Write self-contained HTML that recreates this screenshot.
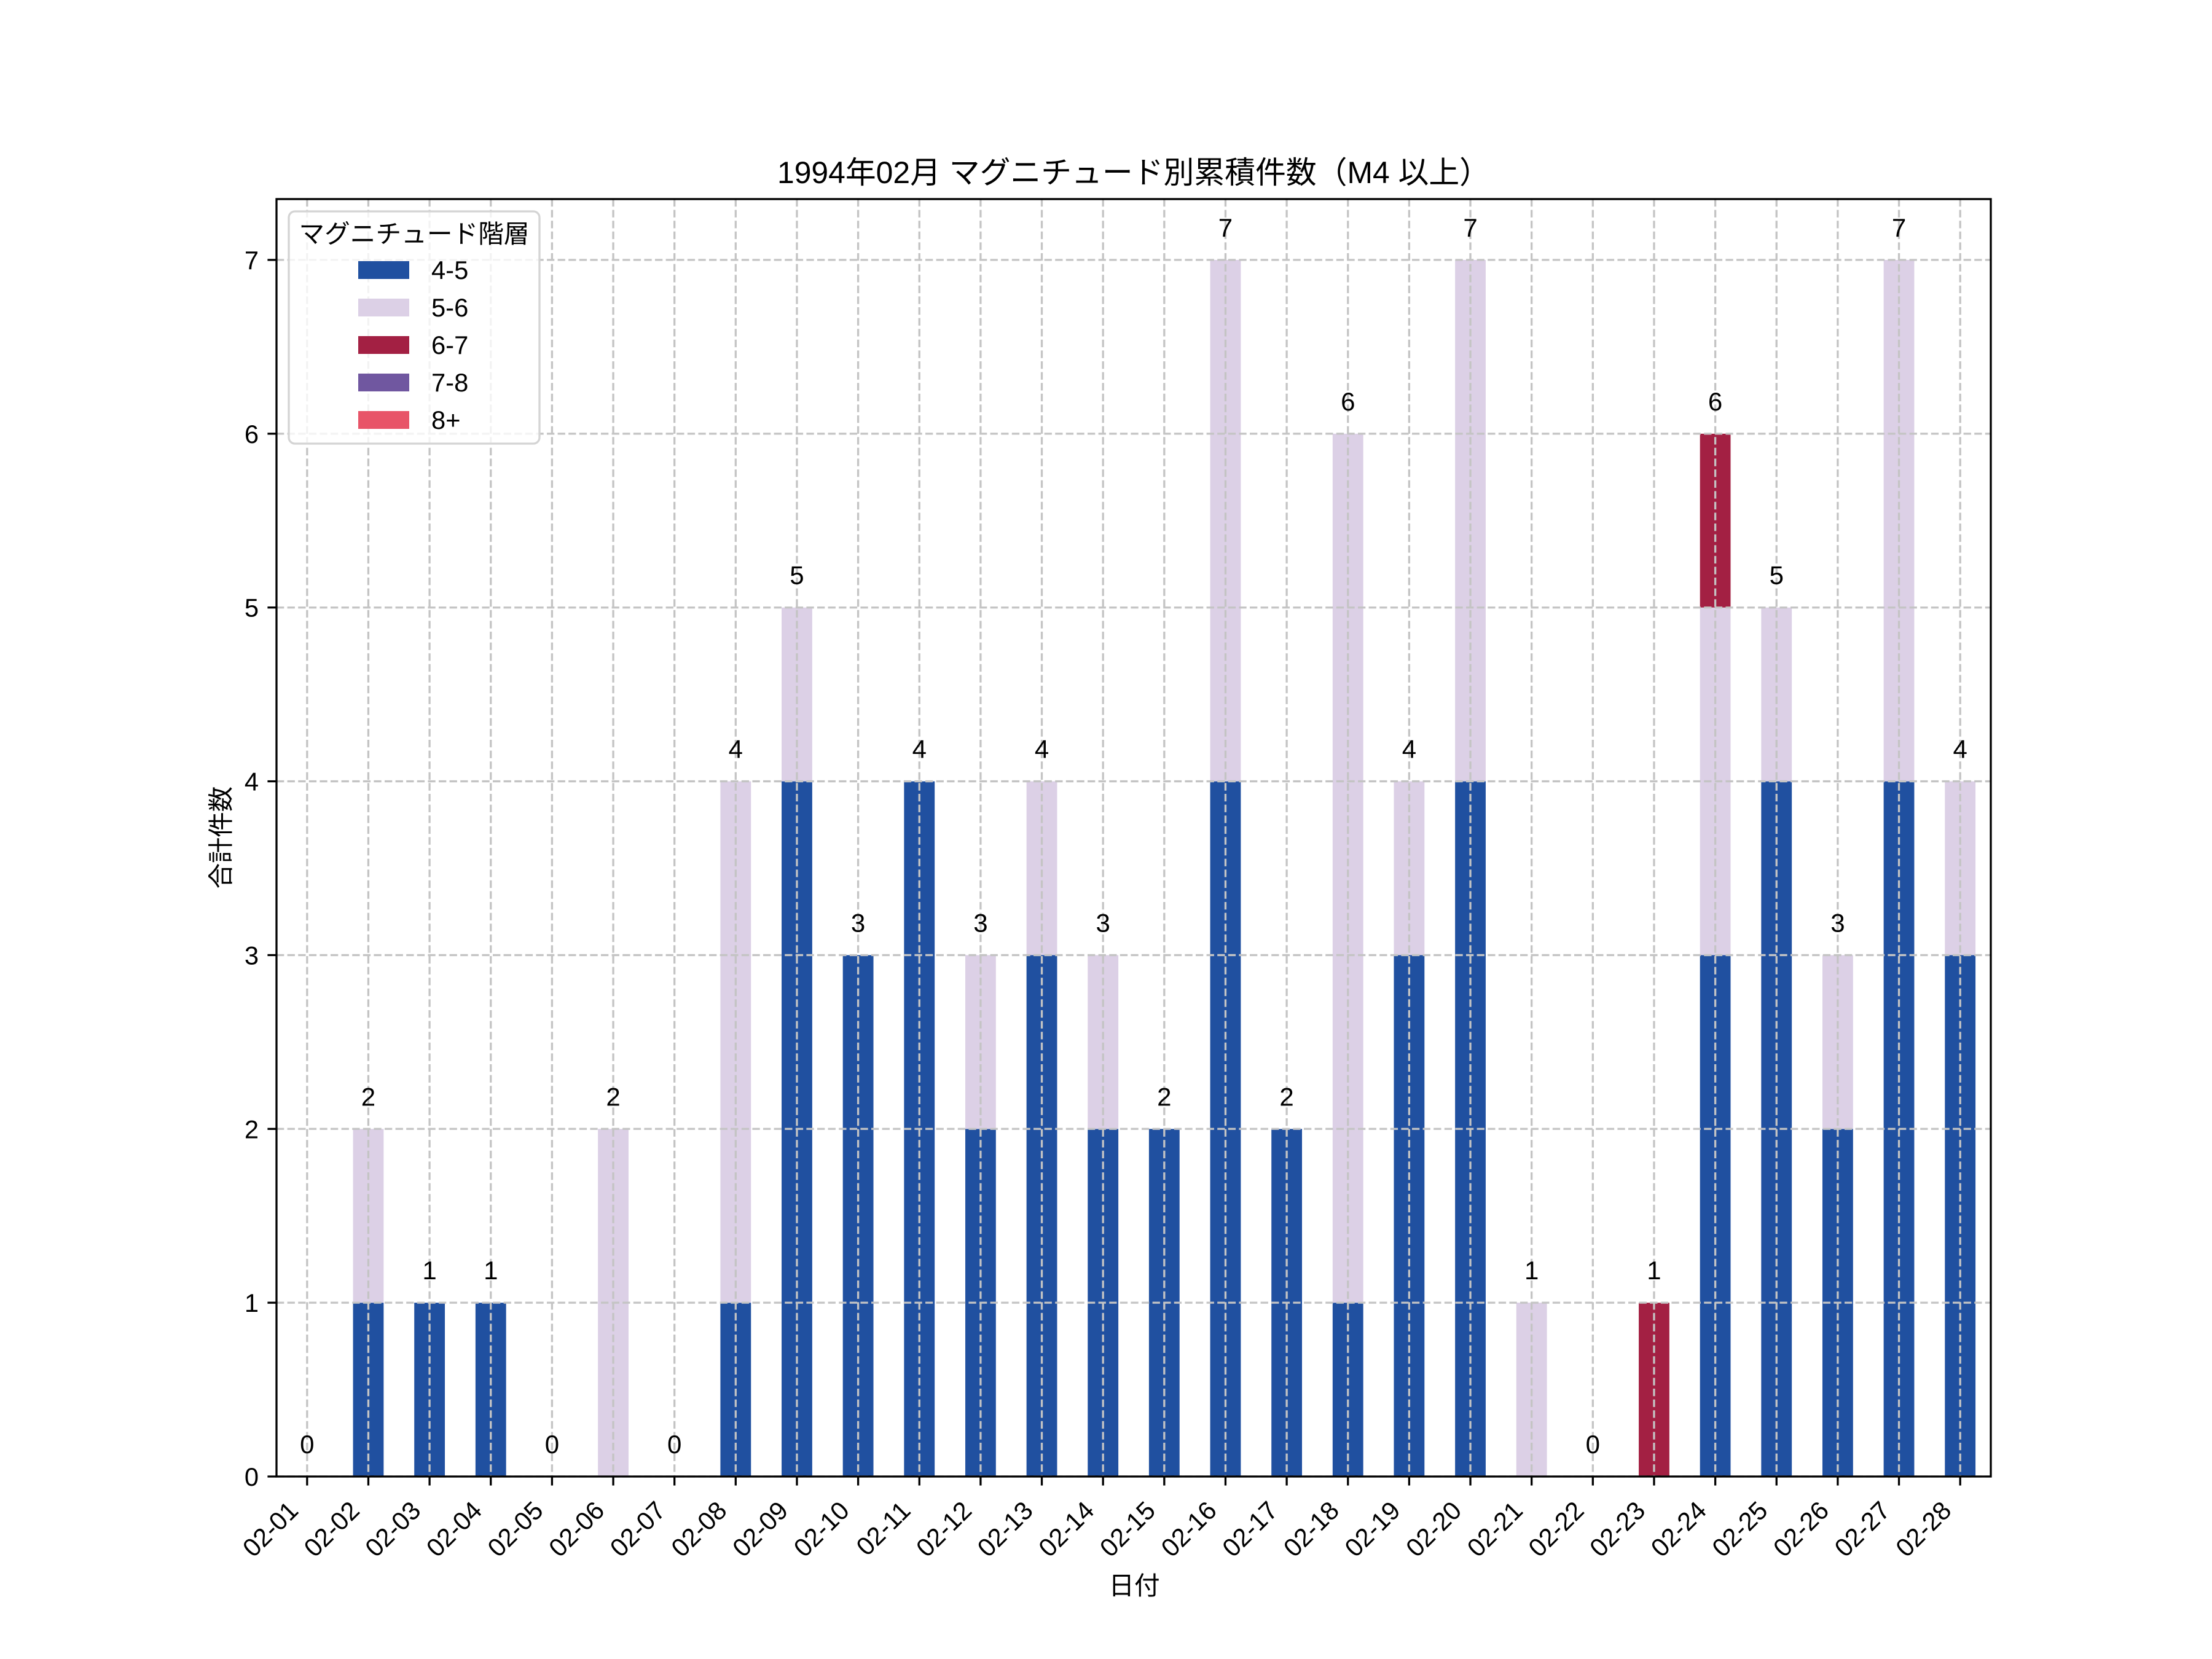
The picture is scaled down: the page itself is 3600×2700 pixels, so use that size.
<!DOCTYPE html>
<html><head><meta charset="utf-8"><style>
html,body{margin:0;padding:0;background:#fff;}
svg{display:block;}
text{font-family:"Liberation Sans","Noto Sans CJK JP",sans-serif;fill:#000;}
</style></head><body>
<svg id="s" width="3600" height="2700" viewBox="0 0 3600 2700" xmlns="http://www.w3.org/2000/svg">
<rect width="3600" height="2700" fill="#fff"/>
<g id="bars"></g>
<g id="grid" stroke="#c4c4c4" stroke-width="3.3" stroke-dasharray="12.3,5.3" fill="none"></g>
<g id="lbl" font-size="42" text-anchor="middle"></g>
<rect x="450" y="324" width="2790" height="2079" fill="none" stroke="#000" stroke-width="3.3"/>
<g id="ticks" stroke="#000" stroke-width="3.3"></g>
<g id="tl" font-size="41.7"></g>
<text x="1845" y="298" font-size="50" text-anchor="middle" textLength="1160" lengthAdjust="spacingAndGlyphs">1994年02月 マグニチュード別累積件数（M4 以上）</text>
<text x="1846" y="2595" font-size="41.7" text-anchor="middle">日付</text>
<text transform="translate(374,1363) rotate(-90)" font-size="41.7" text-anchor="middle">合計件数</text>
<g id="legend">
<rect x="470" y="344" width="408" height="378" rx="10" fill="#fff" fill-opacity="0.8" stroke="#d4d4d4" stroke-width="3.3"/>
<text x="674" y="395" font-size="41.7" text-anchor="middle">マグニチュード階層</text>
<rect x="583" y="425" width="83" height="29" fill="#2050a0"/><text x="702" y="454" font-size="41.7">4-5</text>
<rect x="583" y="486" width="83" height="29" fill="#dcd0e6"/><text x="702" y="515" font-size="41.7">5-6</text>
<rect x="583" y="547" width="83" height="29" fill="#a32043"/><text x="702" y="576" font-size="41.7">6-7</text>
<rect x="583" y="608" width="83" height="29" fill="#7057a0"/><text x="702" y="637" font-size="41.7">7-8</text>
<rect x="583" y="669" width="83" height="29" fill="#e85468"/><text x="702" y="698" font-size="41.7">8+</text>
</g>
</svg>
<script>
const d=[[0,0,0],[1,1,0],[1,0,0],[1,0,0],[0,0,0],[0,2,0],[0,0,0],[1,3,0],[4,1,0],[3,0,0],[4,0,0],[2,1,0],[3,1,0],[2,1,0],[2,0,0],[4,3,0],[2,0,0],[1,5,0],[3,1,0],[4,3,0],[0,1,0],[0,0,0],[0,0,1],[3,2,1],[4,1,0],[2,1,0],[4,3,0],[3,1,0]];
const cols=["#2050a0","#dcd0e6","#a32043"];
const L=450,R=3240,T=324,B=2403,U=(B-T)/7.35,W=(R-L)/28;
const X=i=>L+(i+0.5)*W,Y=v=>B-v*U;
let bars="",grid="",lbl="",ticks="",tl="";
d.forEach((r,i)=>{let c=0;const x=X(i);
 r.forEach((v,k)=>{if(v>0){bars+=`<rect x="${x-W/4}" y="${Y(c+v)}" width="${W/2}" height="${v*U}" fill="${cols[k]}"/>`;c+=v;}});
 lbl+=`<text x="${x}" y="${Y(c)-38}">${c}</text>`;
 grid+=`<line x1="${x}" y1="${T}" x2="${x}" y2="${B}"/>`;
 ticks+=`<line x1="${x}" y1="${B}" x2="${x}" y2="${B+14.6}"/>`;
 const n=String(i+1).padStart(2,"0");
 tl+=`<text transform="translate(${x-12},2461) rotate(-45)" text-anchor="end">02-${n}</text>`;
});
for(let v=0;v<=7;v++){const y=Y(v);
 grid+=`<line x1="${L}" y1="${y}" x2="${R}" y2="${y}"/>`;
 ticks+=`<line x1="${L-14.6}" y1="${y}" x2="${L}" y2="${y}"/>`;
 tl+=`<text x="${L-29}" y="${y+15}" text-anchor="end">${v}</text>`;}
document.getElementById("bars").innerHTML=bars;
document.getElementById("grid").innerHTML=grid;
document.getElementById("lbl").innerHTML=lbl;
document.getElementById("ticks").innerHTML=ticks;
document.getElementById("tl").innerHTML=tl;
</script>
</body></html>
